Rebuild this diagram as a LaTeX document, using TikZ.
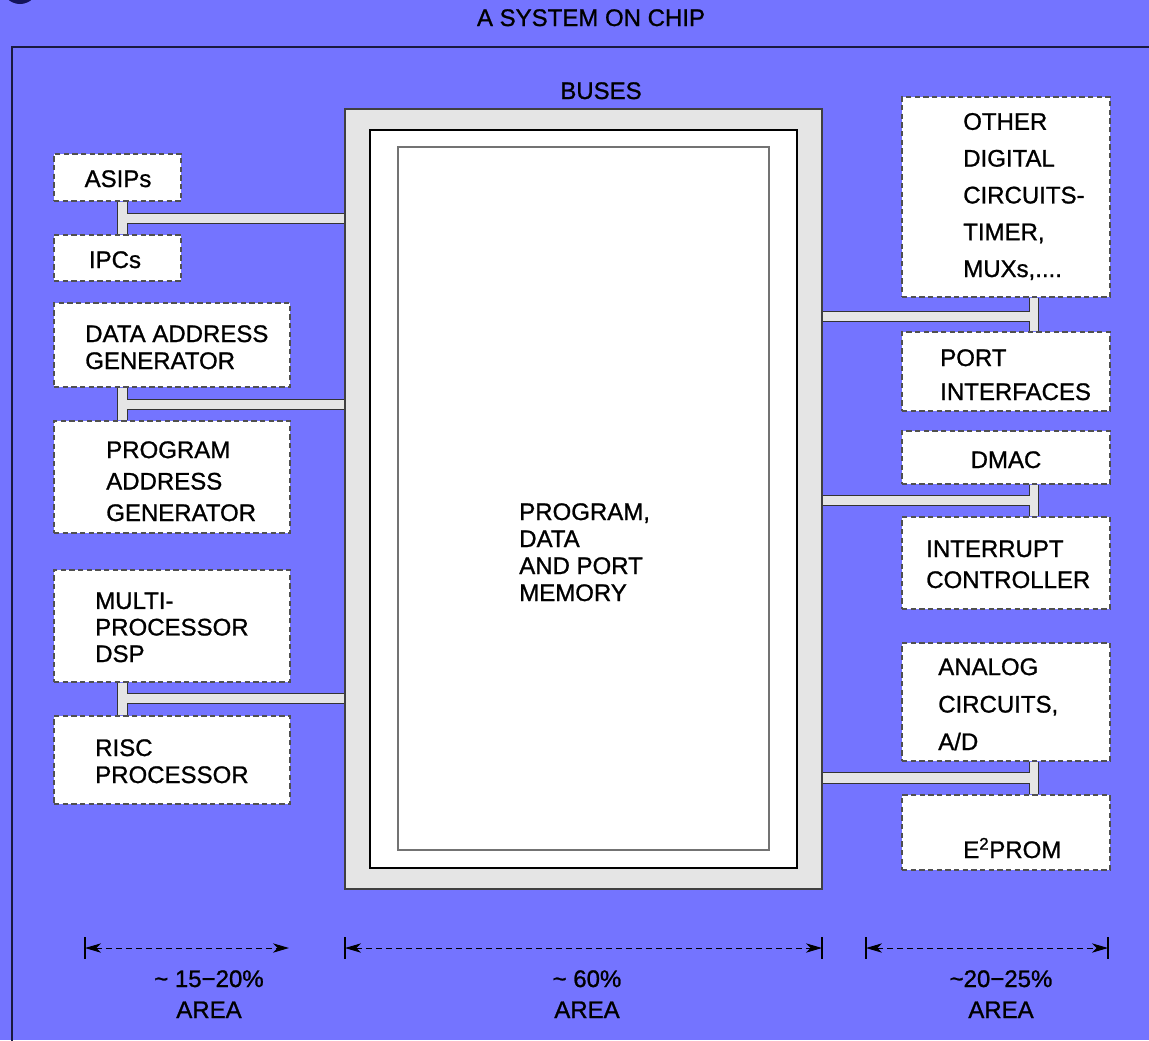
\documentclass[tikz,border=0pt]{standalone}
\usepackage{fontspec}
\setmainfont{Liberation Sans}[RawFeature={embolden=1}]
\usetikzlibrary{arrows.meta,fit,calc}
\definecolor{bgblue}{RGB}{116,116,255}
\definecolor{framec}{RGB}{26,26,64}
\definecolor{bargray}{RGB}{229,229,229}
\definecolor{boxgray}{RGB}{80,80,80}
\definecolor{navy}{RGB}{20,20,90}
\newcommand{\myfs}[1]{\fontsize{18}{#1}\selectfont}
\newcommand{\busT}[7]{%
  \fill[bargray] (#3,0 |- #1.south) rectangle (#4,0 |- #2.north);
  \fill[bargray] (#4,#5) rectangle (#7 |- 0,#6);
  \draw[barline] (#3,0 |- #1.south) -- (#3,0 |- #2.north);
  \draw[barline] (#4,0 |- #1.south) -- (#4,#5) -- (#7 |- 0,#5);
  \draw[barline] (#4,0 |- #2.north) -- (#4,#6) -- (#7 |- 0,#6);
}
\tikzset{
  blk/.style={draw=boxgray, dash pattern=on 4pt off 2.5pt, fill=white, line width=0.9pt, inner sep=0pt},
  barline/.style={draw=black!80, line width=0.75pt},
  txt/.style={font=\myfs{21}, inner sep=0pt, align=left, anchor=base west, text=black},
  ctxt/.style={font=\myfs{21}, inner sep=0pt, align=center, anchor=base, text=black},
  dim/.style={dash pattern=on 4.5pt off 3pt, line width=0.75pt, {Stealth[length=12pt,width=7pt,inset=3.5pt]}-{Stealth[length=12pt,width=7pt,inset=3.5pt]}},
  dimbar/.style={line width=0.9pt},
}
\begin{document}
\begin{tikzpicture}[x=0.75pt,y=-0.75pt]
\useasboundingbox (0,0) rectangle (1149,1040);
\begin{scope}
\clip (0,0) rectangle (1149,1040);
\fill[bgblue] (0,0) rectangle (1149,1040);
% partial icon at top left
\fill[navy] (20,-14) circle (18);
\fill[black!15] (22,-17) circle (14);
% outer frame
\draw[framec, line width=1.6pt] (12,1060) -- (12,47) -- (1170,47);
\end{scope}

\node[ctxt] (title) at (591,26) {A SYSTEM ON CHIP};
\node[ctxt] (buses) at (601,99) {BUSES};

% bus / memory block
\node[draw=black!75, fill=bargray, line width=0.9pt, inner sep=0pt, fit={(345,109) (822,889)}] (bus) {};
\node[draw=black, fill=white, line width=0.9pt, inner sep=0pt, fit={(370,130) (797,868)}] (busin) {};
\node[draw=black!55, line width=0.9pt, inner sep=0pt, fit={(398,147) (769,850)}] (mem) {};
\node[txt, font=\myfs{20.25}] (memt) at (519,601) {PROGRAM,\\DATA\\AND PORT\\MEMORY};

% left blocks
\node[blk, fit={(54,154) (181,201)}] (asip) {};
\node[blk, fit={(54,235) (181,281)}] (ipc) {};
\node[blk, fit={(54,303) (290,387)}] (dag) {};
\node[blk, fit={(54,421) (290,533)}] (pag) {};
\node[blk, fit={(54,570) (290,682)}] (mpd) {};
\node[blk, fit={(54,716) (290,804)}] (risc) {};

% right blocks
\node[blk, fit={(902,97) (1110,297)}] (odc) {};
\node[blk, fit={(902,332) (1110,411)}] (port) {};
\node[blk, fit={(902,431) (1110,484)}] (dmac) {};
\node[blk, fit={(902,517) (1110,609)}] (intc) {};
\node[blk, fit={(902,643) (1110,761)}] (anlg) {};
\node[blk, fit={(902,795) (1110,870)}] (eprom) {};

% bus connectors
\busT{asip}{ipc}{117}{127}{213}{223}{bus.west}
\busT{dag}{pag}{117}{127}{399}{409}{bus.west}
\busT{mpd}{risc}{117}{127}{693}{703}{bus.west}
\busT{odc}{port}{1038}{1029}{311}{321}{bus.east}
\busT{dmac}{intc}{1038}{1029}{495}{505}{bus.east}
\busT{anlg}{eprom}{1038}{1029}{772}{783}{bus.east}

% texts in blocks (anchor = baseline of last line)
\node[ctxt] (asipt) at (118,187) {ASIPs};
\node[ctxt] (ipct) at (115,268) {IPCs};
\node[txt, font=\myfs{20.25}] (dagt) at (85,369) {DATA ADDRESS\\GENERATOR};
\node[txt, font=\myfs{23.6}] (pagt) at (106,521) {PROGRAM\\ADDRESS\\GENERATOR};
\node[txt, font=\myfs{19.9}] (mpdt) at (95,662) {MULTI-\\PROCESSOR\\DSP};
\node[txt, font=\myfs{20.25}] (risct) at (95,783) {RISC\\PROCESSOR};
\node[txt, font=\myfs{27.6}] (odct) at (963,277) {OTHER\\DIGITAL\\CIRCUITS-\\TIMER,\\MUXs,....};
\node[txt, font=\myfs{25.5}] (portt) at (940,400) {PORT\\INTERFACES};
\node[ctxt] (dmact) at (1006,468) {DMAC};
\node[txt, font=\myfs{23.25}] (intct) at (926,588) {INTERRUPT\\CONTROLLER};
\node[txt, font=\myfs{28.1}] (anlgt) at (938,750) {ANALOG\\CIRCUITS,\\A/D};
\node[txt] (epromt) at (963,858) {E\textsuperscript{2}PROM};

% dimension arrows
\coordinate (d1a) at (85,948);
\coordinate (d1b) at (289,948);
\coordinate (d2a) at (345,948);
\coordinate (d2b) at (822,948);
\coordinate (d3a) at (866,948);
\coordinate (d3b) at (1108,948);
\draw[dimbar] ($(d1a)+(0,-11)$) -- ($(d1a)+(0,11)$);
\draw[dimbar] ($(d2a)+(0,-11)$) -- ($(d2a)+(0,11)$);
\draw[dimbar] ($(d2b)+(0,-11)$) -- ($(d2b)+(0,11)$);
\draw[dimbar] ($(d3a)+(0,-11)$) -- ($(d3a)+(0,11)$);
\draw[dimbar] ($(d3b)+(0,-11)$) -- ($(d3b)+(0,11)$);
\draw[dim] (d1a) -- (d1b);
\draw[dim] (d2a) -- (d2b);
\draw[dim] (d3a) -- (d3b);

\node[ctxt, font=\myfs{23.25}] (a1) at (209,1018) {\textasciitilde\ 15−20\%\\AREA};
\node[ctxt, font=\myfs{23.25}] (a2) at (587,1018) {\textasciitilde\ 60\%\\AREA};
\node[ctxt, font=\myfs{23.25}] (a3) at (1001,1018) {\textasciitilde 20−25\%\\AREA};
\end{tikzpicture}
\end{document}
